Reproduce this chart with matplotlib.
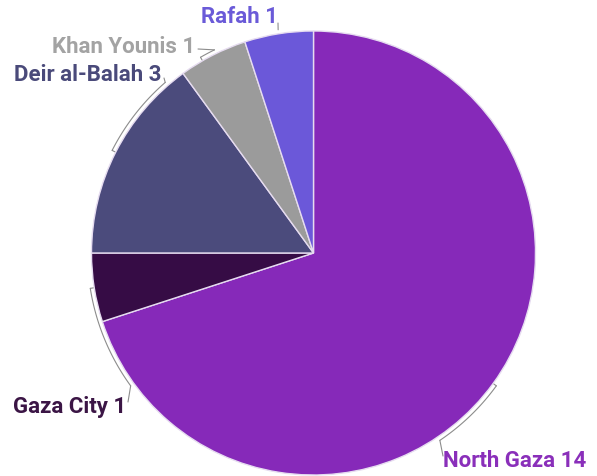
import numpy as np
import matplotlib.pyplot as plt

# ---
# Data: killed journalists by governorate (clockwise from 12 o'clock)

regions = ["North Gaza", "Gaza City", "Deir al-Balah", "Khan Younis", "Rafah"]
counts = [14, 1, 3, 1, 1]
slice_colors = ["#8629b9", "#360c45", "#4b4b7c", "#9b9b9b", "#6b58d9"]
label_colors = ["#8a2fba", "#3b1545", "#4a4a7a", "#a3a3a3", "#6a5ad8"]

# ---
# Layout (pixel coordinates, y measured from the bottom)

W, H = 597, 477
CX, CY, R = 313.5, 223, 222

# leader arc span (degrees, math convention), label anchor, alignment
leaders = {
    "North Gaza":    dict(a0=-36,  a1=-56,  end=(443, 20),  text=(443, 16),  ha="left"),
    "Gaza City":     dict(a0=189,  a1=216,  end=(128, 74),  text=(126, 70),  ha="right"),
    "Deir al-Balah": dict(a0=153,  a1=131,  end=(164, 398), text=(161, 402), ha="right"),
    "Khan Younis":   dict(a0=120,  a1=116,  end=(198, 427), text=(195, 430), ha="right"),
    "Rafah":         dict(a0=99,   a1=99,   end=(278, 453), text=(278, 460), ha="right"),
}

plt.rcParams["font.family"] = ["Roboto", "DejaVu Sans"]

fig = plt.figure(figsize=(W / 100, H / 100), dpi=100)
ax = fig.add_axes([0, 0, 1, 1])

ax.pie(counts, colors=slice_colors, startangle=90, counterclock=False,
       center=(CX, CY), radius=R,
       wedgeprops=dict(edgecolor="#e6dcf0", linewidth=1.0))

ax.set_xlim(0, W)
ax.set_ylim(0, H)
ax.set_aspect("equal")
ax.axis("off")


def pt(angle, rad):
    a = np.deg2rad(angle)
    return CX + rad * np.cos(a), CY + rad * np.sin(a)


line_kw = dict(color="#8c8c8c", lw=0.8, solid_capstyle="round")

for name, n, col in zip(regions, counts, label_colors):
    ld = leaders[name]
    r_arc = R + 4
    angs = np.linspace(ld["a0"], ld["a1"], 40)
    xs, ys = pt(angs, r_arc)
    if ld["a0"] != ld["a1"]:
        ax.plot(xs, ys, **line_kw)
        # inward tick at the far end
        x0, y0 = pt(ld["a0"], R + 1)
        ax.plot([x0, xs[0]], [y0, ys[0]], **line_kw)
    # connector to the label
    ax.plot([xs[-1], ld["end"][0]], [ys[-1], ld["end"][1]], **line_kw)

    ax.text(ld["text"][0], ld["text"][1], f"{name} {n}", color=col,
            fontsize=16, fontweight="bold", ha=ld["ha"], va="center")

fig.savefig("out.png", dpi=100)
